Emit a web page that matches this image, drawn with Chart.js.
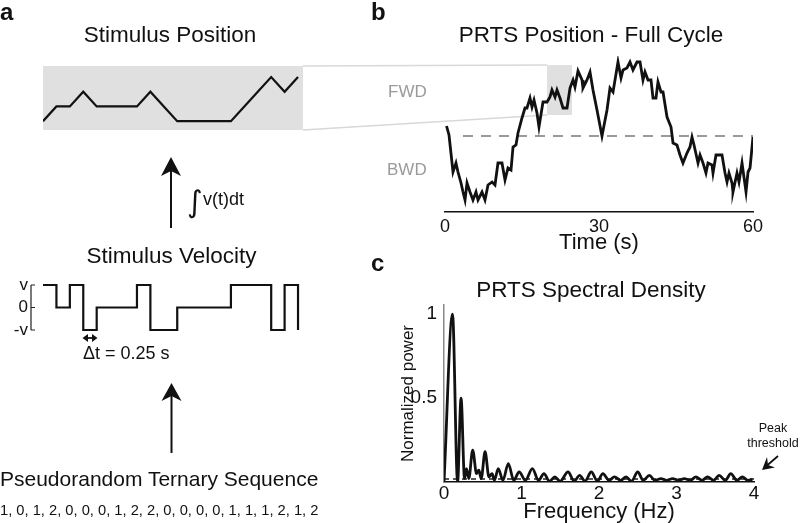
<!DOCTYPE html>
<html>
<head>
<meta charset="utf-8">
<script src="https://cdn.jsdelivr.net/npm/chart.js@4/dist/chart.umd.min.js"></script>
<style>
  html, body { margin: 0; padding: 0; background: #fff; width: 800px; height: 523px; overflow: hidden; }
  canvas, svg { position: absolute; left: 0; top: 0; }
</style>
</head>
<body>
<canvas id="posA" width="800" height="560"></canvas>
<canvas id="velA" width="800" height="560"></canvas>
<canvas id="prtsB" width="800" height="560"></canvas>
<canvas id="specC" width="800" height="560"></canvas>

<svg width="800" height="523" font-family="Liberation Sans, Arial, Helvetica, sans-serif" fill="#111">
  <text x="0" y="20" font-size="24" font-weight="bold">a</text>
  <text x="371" y="20" font-size="24" font-weight="bold">b</text>
  <text x="371" y="271" font-size="24" font-weight="bold">c</text>

  <text x="170" y="41.5" font-size="22.5" text-anchor="middle">Stimulus Position</text>
  <text x="591" y="41.5" font-size="22.5" text-anchor="middle">PRTS Position - Full Cycle</text>
  <text x="171.5" y="263" font-size="22.5" text-anchor="middle">Stimulus Velocity</text>
  <text x="591" y="296.5" font-size="22.5" text-anchor="middle">PRTS Spectral Density</text>

  <text x="388" y="96.5" font-size="17" fill="#9a9a9a">FWD</text>
  <text x="387" y="175" font-size="17" fill="#9a9a9a">BWD</text>

  <text x="187" y="212" font-size="30" font-family="DejaVu Sans">∫</text>
  <text x="203" y="205" font-size="18">v(t)dt</text>
  <text x="83" y="359" font-size="18">Δt = 0.25 s</text>

  <text x="0" y="485.5" font-size="21">Pseudorandom Ternary Sequence</text>
  <text id="seqText" x="0" y="515" font-size="14.7"></text>

  <text x="773" y="431.5" font-size="12.5" text-anchor="middle">Peak</text>
  <text x="773" y="446.5" font-size="12.5" text-anchor="middle">threshold</text>

  <!-- arrows -->
  <line x1="171" y1="228" x2="171" y2="170" stroke="#111" stroke-width="2"/>
  <polygon points="171,157 161,176 171,171 181,176" fill="#111"/>
  <line x1="171.5" y1="453" x2="171.5" y2="395" stroke="#111" stroke-width="2"/>
  <polygon points="171.5,383 161.5,401 171.5,396 181.5,401" fill="#111"/>
  <line x1="86" y1="338" x2="94" y2="338" stroke="#111" stroke-width="1.8"/>
  <polygon points="82.5,338 88,334 88,342" fill="#111"/>
  <polygon points="97.5,338 92,334 92,342" fill="#111"/>
  <line x1="778" y1="456" x2="767" y2="465.5" stroke="#111" stroke-width="1.8"/>
  <polygon points="762,470 775,467.5 768,465 767,457" fill="#111"/>
</svg>

<script>
// ---- panel a: ternary sequence, velocity and integrated position ----
const seqDigits = [1, 0, 1, 2, 0, 0, 0, 1, 2, 2, 0, 0, 0, 0, 1, 1, 1, 2, 1, 2];
const velLevels = [1, 0, 1, -1, 0, 0, 0, 1, -1, -1, 0, 0, 0, 0, 1, 1, 1, -1, 1, -1];
const posLevels = [0, 1, 1, 2, 1, 1, 1, 1, 2, 1, 0, 0, 0, 0, 0, 1, 2, 3, 2, 3];
const velTickValues = [-1, 0, 1];
const velTickLabels = ['-v', '0', 'v'];

// ---- panel b: PRTS position over a full 60 s cycle ----
const prtsTime = [0.3, 0.78, 1.56, 2.14, 2.53, 3.12, 3.51, 3.9, 4.29, 4.87, 5.45, 6.04, 6.43, 7.21, 7.79,
  8.38, 9.16, 9.74, 10.32, 11.1, 11.69, 12.27, 12.86, 13.25, 13.83, 14.22, 15.0, 15.58, 15.97, 16.56,
  16.95, 17.34, 17.92, 18.31, 19.09, 19.87, 20.45, 20.84, 21.43, 21.82, 22.4, 22.99, 23.77, 24.35,
  24.94, 25.32, 25.91, 26.69, 26.88, 27.66, 28.25, 28.83, 29.61, 30.58, 31.56, 32.14, 32.73, 33.12,
  33.7, 34.29, 34.68, 35.45, 36.04, 36.62, 37.4, 37.99, 38.57, 38.96, 39.55, 40.13, 40.52, 41.1,
  41.49, 42.08, 42.47, 43.25, 44.03, 44.42, 45.19, 45.78, 46.36, 47.14, 47.73, 48.12, 48.51, 49.29,
  49.68, 50.26, 50.84, 51.23, 52.01, 52.21, 52.79, 53.96, 54.55, 54.94, 55.32, 55.91, 56.1, 56.88,
  57.27, 57.86, 58.64, 59.03, 59.42, 60.0];
const prtsPos = [10, 1, -36, -27, -36, -47, -56, -64, -47, -56, -64, -56, -64, -56, -64,
  -49, -46, -49, -27, -27, -44, -32, -34, -11, -9, 3, 18, 28, 28, 38,
  29, 36, 23, 9, 34, 34, 39, 46, 39, 46, 38, 28, 28, 48,
  56, 49, 65, 56, 48, 56, 64, 46, 26, 0, 26, 48, 44, 56,
  74, 58, 66, 68, 74, 66, 74, 74, 56, 64, 56, 56, 38, 38,
  54, 44, 44, 19, 9, -7, -9, -19, -27, -17, -11, -1, -9, -27,
  -19, -27, -37, -27, -29, -37, -19, -19, -37, -46, -37, -47, -56, -37,
  -46, -27, -56, -36, -32, -1];
const timeTicks = [0, 30, 60];
const midlineFrom = 3.5;
const zoomBox = { t0: 19.87, t1: 24.74, p0: 21, p1: 71 };

// ---- panel c: spectral density ----
const specFreq = [0, 0.11, 0.175, 0.22, 0.265, 0.29, 0.32, 0.37, 0.42, 0.45, 0.48, 0.53, 0.58, 0.62,
  0.65, 0.7, 0.76, 0.83, 0.9, 0.97, 1.05, 1.14, 1.22, 1.29, 1.36, 1.43, 1.5, 1.6, 1.68, 1.75, 1.82,
  1.9, 1.98, 2.05, 2.13, 2.2, 2.28, 2.35, 2.42, 2.5, 2.57, 2.65, 2.72, 2.8, 2.87, 2.95, 3.03, 3.1,
  3.18, 3.25, 3.33, 3.4, 3.48, 3.55, 3.63, 3.7, 3.78, 3.85, 3.92, 3.98];
const specPower = [0, 1.0, 0, 0.5, 0.02, 0.08, 0.02, 0.19, 0.05, 0.07, 0.02, 0.18, 0.03, 0.05,
  0.01, 0.08, 0.01, 0.11, 0.01, 0.06, 0.01, 0.08, 0.01, 0.05, 0.005, 0.03, 0.005, 0.06, 0.005, 0.04, 0.005,
  0.06, 0.005, 0.05, 0.01, 0.03, 0.01, 0.03, 0.005, 0.06, 0.01, 0.04, 0.01, 0.02, 0.01, 0.02, 0.01, 0.02,
  0.01, 0.03, 0.01, 0.03, 0.01, 0.04, 0.01, 0.05, 0.01, 0.03, 0.01, 0.015];
const freqTicks = [0, 1, 2, 3, 4];
const powerTicks = [0.5, 1];
const peakThreshold = 0.018;

Chart.defaults.font.family = 'Liberation Sans, Arial, Helvetica, sans-serif';
Chart.defaults.color = '#111';
Chart.defaults.animation = false;
Chart.defaults.plugins.legend.display = false;
Chart.defaults.plugins.tooltip.enabled = false;

const toPoints = (xs, ys) => xs.map((x, i) => ({ x: x, y: ys[i] }));
const stepIndex = posLevels.map((_, i) => i);

// gray background behind the short position trace
const grayArea = {
  id: 'grayArea',
  beforeDatasetsDraw(chart) {
    const { ctx, chartArea: a } = chart;
    ctx.save();
    ctx.fillStyle = '#e0e0e0';
    ctx.fillRect(a.left, a.top, a.right - a.left, a.bottom - a.top);
    ctx.restore();
  }
};

const posChart = new Chart(document.getElementById('posA'), {
  type: 'line',
  data: { datasets: [{ data: toPoints(stepIndex, posLevels), borderColor: '#111', borderWidth: 2.2, pointRadius: 0, tension: 0 }] },
  options: {
    responsive: false,
    layout: { padding: { left: 43, right: 497, top: 66, bottom: 430 } },
    scales: {
      x: { type: 'linear', display: false, min: 0, max: 19.37 },
      y: { display: false, min: -0.6, max: 3.75 }
    }
  },
  plugins: [grayArea]
});

// bracket-style axis for the velocity trace
const bracket = {
  id: 'bracket',
  afterDraw(chart) {
    const { ctx, chartArea: a, scales: { y } } = chart;
    ctx.save();
    ctx.strokeStyle = '#222';
    ctx.lineWidth = 1.2;
    ctx.beginPath();
    ctx.moveTo(a.left, y.getPixelForValue(1));
    ctx.lineTo(a.left, y.getPixelForValue(-1));
    velTickValues.forEach(v => {
      ctx.moveTo(a.left, y.getPixelForValue(v));
      ctx.lineTo(a.left + 4, y.getPixelForValue(v));
    });
    ctx.stroke();
    ctx.restore();
  }
};

new Chart(document.getElementById('velA'), {
  type: 'line',
  data: { datasets: [{ data: toPoints(stepIndex, velLevels), stepped: true, clip: false, borderColor: '#111', borderWidth: 2.2, pointRadius: 0 }] },
  options: {
    responsive: false,
    layout: { padding: { left: 0, right: 497, top: 285, bottom: 230 } },
    scales: {
      x: { type: 'linear', display: false, min: -0.894, max: 19.37 },
      y: {
        min: -1, max: 1,
        afterBuildTicks: s => { s.ticks = velTickValues.map(v => ({ value: v })); },
        afterFit: s => { s.width = 31; },
        grid: { drawOnChartArea: false, drawTicks: false },
        border: { display: false },
        ticks: { padding: 3, autoSkip: false, font: { size: 17 }, callback: v => velTickLabels[velTickValues.indexOf(v)] }
      }
    }
  },
  plugins: [bracket]
});

// zoom box in panel b and the two lines linking it to panel a
const zoomLink = {
  id: 'zoomLink',
  beforeDatasetsDraw(chart) {
    const { ctx, scales: { x, y } } = chart;
    const a = posChart.chartArea;
    const bx0 = x.getPixelForValue(zoomBox.t0), bx1 = x.getPixelForValue(zoomBox.t1);
    const by0 = y.getPixelForValue(zoomBox.p1), by1 = y.getPixelForValue(zoomBox.p0);
    ctx.save();
    ctx.fillStyle = '#e0e0e0';
    ctx.fillRect(bx0, by0, bx1 - bx0, by1 - by0);
    ctx.strokeStyle = '#d8d8d8';
    ctx.lineWidth = 1.5;
    ctx.beginPath();
    ctx.moveTo(a.right, a.top); ctx.lineTo(bx0, by0);
    ctx.moveTo(a.right, a.bottom); ctx.lineTo(bx0, by1);
    ctx.stroke();
    ctx.restore();
  }
};

new Chart(document.getElementById('prtsB'), {
  type: 'line',
  data: {
    datasets: [
      { data: toPoints(prtsTime, prtsPos), borderColor: '#111', borderWidth: 2.8, pointRadius: 0, tension: 0 },
      { data: [{ x: midlineFrom, y: 0 }, { x: 60, y: 0 }], borderColor: '#9a9a9a', borderWidth: 2, borderDash: [10, 8], pointRadius: 0 }
    ]
  },
  options: {
    responsive: false,
    layout: { padding: { left: 445, right: 47, top: 56, bottom: 301 } },
    scales: {
      x: {
        type: 'linear', min: 0, max: 60,
        afterBuildTicks: s => { s.ticks = timeTicks.map(v => ({ value: v })); },
        afterFit: s => { s.height = 47; },
        grid: { drawOnChartArea: false, drawTicks: false },
        border: { color: '#111', width: 1.5 },
        ticks: { padding: 4, font: { size: 18 }, maxRotation: 0 },
        title: { display: true, text: 'Time (s)', font: { size: 22 }, padding: { top: 0, bottom: 3 } }
      },
      y: { display: false, min: -76, max: 80 }
    }
  },
  plugins: [zoomLink]
});

new Chart(document.getElementById('specC'), {
  type: 'line',
  data: {
    datasets: [
      { data: toPoints(specFreq, specPower), borderColor: '#111', borderWidth: 2.8, pointRadius: 0, cubicInterpolationMode: 'monotone' },
      { data: [{ x: 0, y: peakThreshold }, { x: 4, y: peakThreshold }], borderColor: '#222', borderWidth: 1.3, borderDash: [5, 4], pointRadius: 0 }
    ]
  },
  options: {
    responsive: false,
    layout: { padding: { left: 394, right: 46, top: 305, bottom: 31 } },
    scales: {
      x: {
        type: 'linear', min: 0, max: 4,
        afterBuildTicks: s => { s.ticks = freqTicks.map(v => ({ value: v })); },
        afterFit: s => { s.height = 47; },
        grid: { drawOnChartArea: false, drawTicks: false },
        border: { color: '#111', width: 1.5 },
        ticks: { padding: 0, font: { size: 19 }, maxRotation: 0 },
        title: { display: true, text: 'Frequency (Hz)', font: { size: 22 }, padding: { top: 0, bottom: 4 } }
      },
      y: {
        min: 0, max: 1.054,
        afterBuildTicks: s => { s.ticks = powerTicks.map(v => ({ value: v })); },
        afterFit: s => { s.width = 50; },
        grid: { drawOnChartArea: false, drawTicks: false },
        border: { color: '#8a8a8a', width: 1.5 },
        ticks: { padding: 7, autoSkip: false, font: { size: 19 }, callback: v => String(v) },
        title: { display: true, text: 'Normalized power', font: { size: 17 }, padding: { top: 4, bottom: 0 } }
      }
    }
  }
});

document.getElementById('seqText').textContent = seqDigits.join(', ');
</script>
</body>
</html>
